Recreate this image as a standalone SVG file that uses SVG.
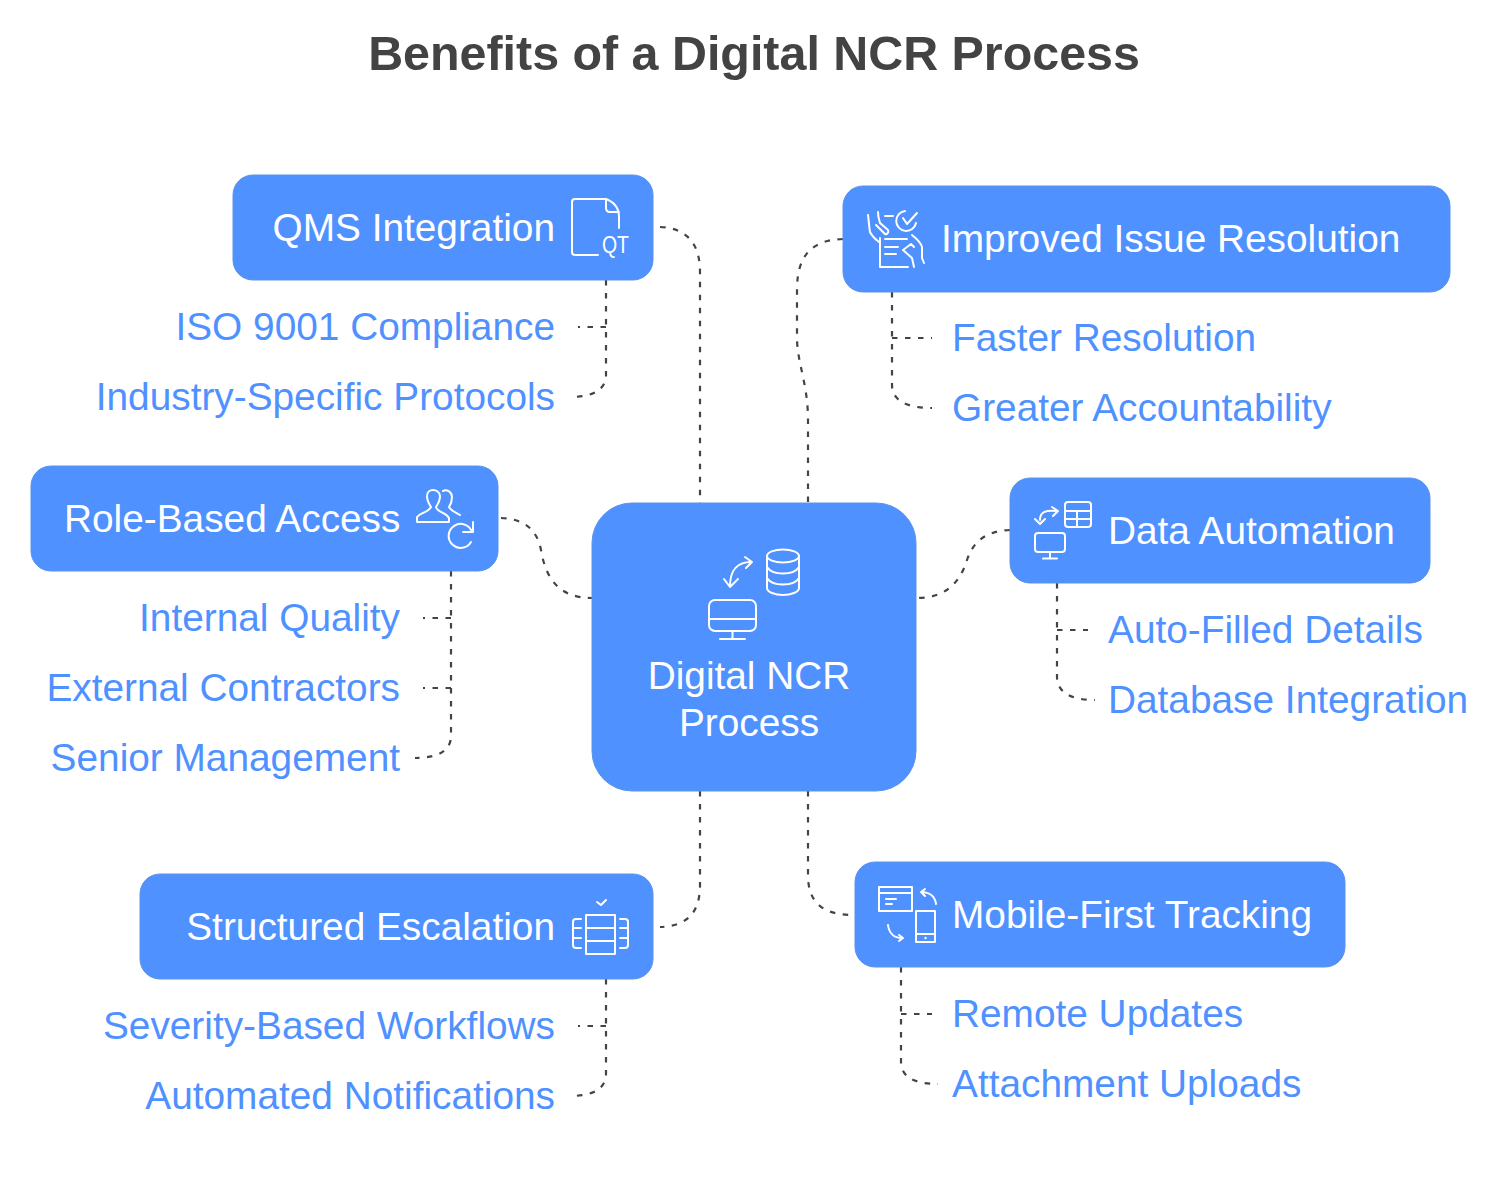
<svg xmlns="http://www.w3.org/2000/svg" width="1496" height="1180" viewBox="0 0 1496 1180">
<style>
text{font-family:"Liberation Sans",Arial,sans-serif}
.t{font-size:48.400px;font-weight:700;fill:#434343;text-anchor:middle}
.box{fill:#4f91ff;stroke:#5a93ea;stroke-width:1}
.n{font-size:38.800px;fill:#fff}
.s{font-size:38.800px;fill:#4f91ff}
.e{text-anchor:end}
.m{text-anchor:middle}
.i{fill:none;stroke:#fff;stroke-width:2;stroke-linecap:round;stroke-linejoin:round}
.c{fill:none;stroke:#444;stroke-width:2.200;stroke-dasharray:5.500 7.500}
</style>
<rect width="1496" height="1180" fill="#fff"/>
<text class="t" x="754" y="70">Benefits of a Digital NCR Process</text>
<g id="connectors">
<path class="c" d="M660 227C688 228 700 245 700 272V503"/>
<path class="c" d="M843 239C812 240 797 255 797 290V340C798 365 808 385 808 420V503"/>
<path class="c" d="M501 518C525 519 537 530 541 550C546 580 560 598 592 598"/>
<path class="c" d="M1010 530C985 531 973 542 967 560C960 583 945 598 917 598"/>
<path class="c" d="M700 791V885C700 912 688 926 660 927"/>
<path class="c" d="M808 791V875C808 902 822 914 850 915"/>
<path class="c" d="M606 280V375C606 389 594 397 570 397"/>
<path class="c" d="M606 327H578"/>
<path class="c" d="M892 292V385C892 399 904 408 932 408"/>
<path class="c" d="M892 338H932"/>
<path class="c" d="M451 571V736C451 750 439 758 415 758"/>
<path class="c" d="M451 618H423"/>
<path class="c" d="M451 688H423"/>
<path class="c" d="M1057 583V677C1057 691 1069 700 1095 700"/>
<path class="c" d="M1057 630H1088"/>
<path class="c" d="M606 979V1074C606 1088 594 1096 570 1096"/>
<path class="c" d="M606 1026H578"/>
<path class="c" d="M901 967V1062C901 1076 913 1084 938 1084"/>
<path class="c" d="M901 1014H932"/>
</g>
<g id="center">
<rect class="box" x="592" y="503" width="324" height="288" rx="40"/>
<text class="n m" x="749" y="689">Digital NCR</text>
<text class="n m" x="749" y="736">Process</text>
<g class="i">
<ellipse cx="783" cy="556" rx="16" ry="6.500"/>
<path d="M767 556V588C767 592 775 595 783 595S799 592 799 588V556M767 567C770 572 777 573.500 783 573.500S796 572 799 567M767 578C770 583 777 584.500 783 584.500S796 583 799 578"/>
<rect x="709" y="600" width="47" height="31" rx="6"/>
<path d="M709 619H756M732.500 631V639M720 639H745"/>
<path d="M730 586C730 570 738 562 751 562M745 557L752 562L746 568M724 579L730 587L738 579"/>
</g>
</g>
<g id="qms">
<rect class="box" x="233" y="175" width="420" height="105" rx="20"/>
<text class="n e" x="555" y="241">QMS Integration</text>
<g class="i">
<path d="M598 255H575Q572 255 572 252V202Q572 199 575 199H606Q619 204 619 217V228M606 199V208Q606 212 610 212H619"/>
</g>
<text x="602" y="253" font-size="23" fill="#fff" textLength="27" lengthAdjust="spacingAndGlyphs">QT</text>
</g>
<g id="improved">
<rect class="box" x="843" y="186" width="607" height="106" rx="20"/>
<text class="n" x="941" y="252">Improved Issue Resolution</text>
<g class="i">
<path d="M868 215C869 222 869 227 870 232C872 236 875 239 879 242M878 212C878 216 879 220 880 223L888 230C889 232 887 235 885 234L876 225"/>
<path d="M885 216H893M917 213L907 224L903 218"/>
<path d="M916 223A10 10 0 1 1 905 211"/>
<path d="M880 238V267H908M885 239H907M885 247H898M885 254H896"/>
<path d="M912 235C917 239 921 243 922 247V258L924 263M903 250L911 244L914 247M903 250L912 258L914 267"/>
</g>
</g>
<g id="role">
<rect class="box" x="31" y="466" width="467" height="105" rx="20"/>
<text class="n" x="64" y="532">Role-Based Access</text>
<g class="i">
<path d="M417 522V517C421 512 428 513 431 507C429 504 427 500 427 496C427 492 430 490 433 490S440 492 440 496C440 500 438 504 436 507C438 513 446 512 449 518V522Z"/>
<path d="M443 491C447 489 452 492 452 497C452 500 451 504 449 507C451 511 455 512 460 515"/>
<path d="M472 532A12 12 0 1 0 471 542M473 522V532H463"/>
</g>
</g>
<g id="data">
<rect class="box" x="1010" y="478" width="420" height="105" rx="20"/>
<text class="n" x="1108" y="544">Data Automation</text>
<g class="i">
<rect x="1065" y="502" width="26" height="25" rx="3"/>
<path d="M1065 511H1091M1065 519H1091M1077 511V527"/>
<path d="M1040 520C1040 512 1045 510 1057 511M1052 507L1058 511L1053 516M1035 519L1040 524L1045 519"/>
<rect x="1035" y="533" width="30" height="19" rx="3"/>
<path d="M1050 552V558M1043 558.500H1057"/>
</g>
</g>
<g id="escalation">
<rect class="box" x="140" y="874" width="513" height="105" rx="20"/>
<text class="n e" x="555" y="940">Structured Escalation</text>
<g class="i">
<rect x="586" y="915" width="29" height="39"/>
<path d="M586 928H615M586 941H615M597 902L601 905L606 900"/>
<path d="M581 919H576Q573 919 573 922V945Q573 948 576 948H581M573 928H581M573 938H581M620 919H625Q628 919 628 922V945Q628 948 625 948H620M620 928H628M620 938H628"/>
</g>
</g>
<g id="mobile">
<rect class="box" x="855" y="862" width="490" height="105" rx="20"/>
<text class="n" x="952" y="928">Mobile-First Tracking</text>
<g class="i">
<rect x="879" y="887" width="33" height="24"/>
<path d="M879 893H912M886 899H896M886 904H892"/>
<path d="M936 904C935 897 930 892 921 892M925 889L921 892L925 896"/>
<rect x="916" y="911" width="19" height="31"/>
<path d="M916 934H935"/>
<path d="M888 925C889 933 894 938 902 938M899 935L903 938L899 941"/>
</g>
<circle cx="925.500" cy="938" r="1.200" fill="#fff"/>
</g>
<g id="labels">
<text class="s e" x="555" y="340">ISO 9001 Compliance</text>
<text class="s e" x="555" y="410">Industry-Specific Protocols</text>
<text class="s" x="952" y="351">Faster Resolution</text>
<text class="s" x="952" y="421">Greater Accountability</text>
<text class="s e" x="400" y="631">Internal Quality</text>
<text class="s e" x="400" y="701">External Contractors</text>
<text class="s e" x="400" y="771">Senior Management</text>
<text class="s" x="1108" y="643">Auto-Filled Details</text>
<text class="s" x="1108" y="713">Database Integration</text>
<text class="s e" x="555" y="1039">Severity-Based Workflows</text>
<text class="s e" x="555" y="1109">Automated Notifications</text>
<text class="s" x="952" y="1027">Remote Updates</text>
<text class="s" x="952" y="1097">Attachment Uploads</text>
</g>
</svg>
